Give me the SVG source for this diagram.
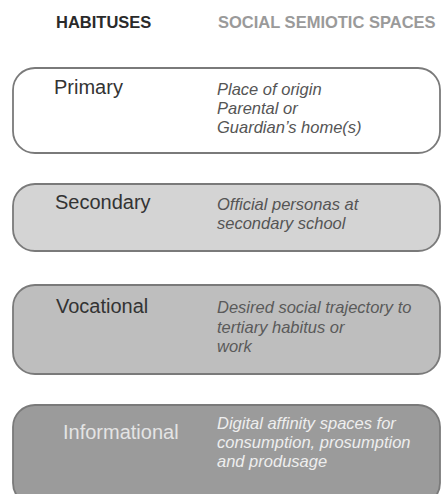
<svg xmlns="http://www.w3.org/2000/svg" width="441" height="494" viewBox="0 0 441 494">
<style>
.hdr{font-family:"Liberation Sans",Arial,sans-serif;font-size:16.5px;font-weight:bold}
.lbl{font-family:"Liberation Sans",Arial,sans-serif;font-size:20px}
.it{font-family:"Liberation Sans",Arial,sans-serif;font-size:16.5px;font-style:italic}
.box{stroke:#7a7a7a;stroke-width:1.8}
</style>
<rect width="441" height="494" fill="#ffffff"/>
<g id="headers">
<text class="hdr" x="56" y="28" fill="#2a2a2a">HABITUSES</text>
<text class="hdr" x="218" y="28" fill="#9a9a9a">SOCIAL SEMIOTIC SPACES</text>
</g>
<g id="primary">
<rect class="box" x="13" y="68" width="427" height="85" rx="22" ry="22" fill="#ffffff"/>
<text class="lbl" x="54" y="94" fill="#333">Primary</text>
<text class="it" x="217" y="95" fill="#555">Place of origin</text>
<text class="it" x="217" y="114" fill="#555">Parental or</text>
<text class="it" x="217" y="133" fill="#555">Guardian’s home(s)</text>
</g>
<g id="secondary">
<rect class="box" x="13" y="184" width="427" height="67" rx="22" ry="22" fill="#d4d4d4"/>
<text class="lbl" x="55" y="209" fill="#333">Secondary</text>
<text class="it" x="217" y="210" fill="#555">Official personas at</text>
<text class="it" x="217" y="229" fill="#555">secondary school</text>
</g>
<g id="vocational">
<rect class="box" x="13" y="285" width="427" height="89" rx="22" ry="22" fill="#bebebe"/>
<text class="lbl" x="56" y="313" fill="#333">Vocational</text>
<text class="it" x="217" y="313" fill="#5a5a5a">Desired social trajectory to</text>
<text class="it" x="217" y="332.5" fill="#5a5a5a">tertiary habitus or</text>
<text class="it" x="217" y="352" fill="#5a5a5a">work</text>
</g>
<g id="informational">
<rect class="box" x="13" y="405" width="427" height="100" rx="22" ry="22" fill="#9b9b9b"/>
<text class="lbl" x="63" y="439" fill="#e4e4e4">Informational</text>
<text class="it" x="217" y="429" fill="#eeeeee">Digital affinity spaces for</text>
<text class="it" x="217" y="448" fill="#eeeeee">consumption, prosumption</text>
<text class="it" x="217" y="467" fill="#eeeeee">and produsage</text>
</g>
</svg>
